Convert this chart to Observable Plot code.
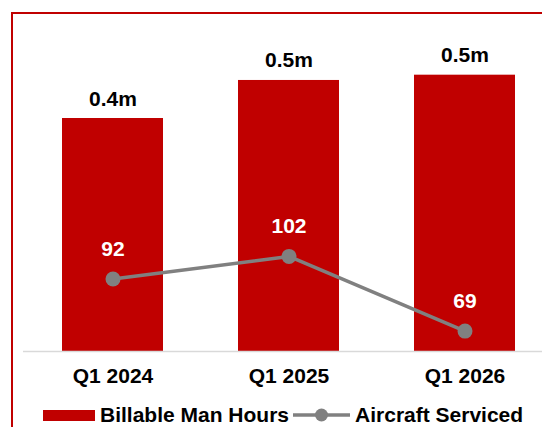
<!DOCTYPE html>
<html>
<head>
<meta charset="utf-8">
<script src="https://cdn.jsdelivr.net/npm/d3@7"></script>
<script src="https://cdn.jsdelivr.net/npm/@observablehq/plot@0.6"></script>
<style>
  html, body { margin: 0; padding: 0; background: #fff; overflow: hidden; }
  body { width: 542px; height: 427px; position: relative; font-family: "Liberation Sans", Arial, sans-serif; }
  #frame { position: absolute; left: 11px; top: 12px; width: 700px; height: 700px; border-left: 2px solid #c00000; border-top: 2px solid #c00000; box-sizing: border-box; }
  #chart { position: absolute; left: 0; top: 0; width: 542px; height: 395px; }
  #chart svg { position: absolute; left: 0; top: 0; }
  #legend { position: absolute; left: 0; top: 403px; width: 542px; height: 24px; display: flex; align-items: center; font-size: 21px; font-weight: bold; color: #000; padding-left: 43px; box-sizing: border-box; white-space: nowrap; }
  .sw { display: inline-block; width: 52px; height: 11px; background: #c00000; margin-right: 5px; }
  .lsw { margin-left: 4px; margin-right: 5px; }
</style>
</head>
<body>
<div id="frame"></div>
<div id="chart"></div>
<div id="legend"></div>
<script>
const categories = ["Q1 2024", "Q1 2025", "Q1 2026"];
const manHours = [441, 513, 523];          // thousand hours
const manHourLabels = ["0.4m", "0.5m", "0.5m"];
const aircraft = [92, 102, 69];
const seriesNames = ["Billable Man Hours", "Aircraft Serviced"];

const red = "#c00000";
const gray = "#808080";
const font = "Liberation Sans, Arial, sans-serif";

const barData = categories.map((c, i) => ({cat: c, v: manHours[i], label: manHourLabels[i]}));
const lineData = categories.map((c, i) => ({cat: c, v: aircraft[i]}));

const common = {
  width: 542,
  height: 395,
  marginLeft: 23,
  marginRight: 0,
  marginTop: 34,
  marginBottom: 44,
  style: {fontFamily: font, background: "transparent", overflow: "visible"},
  x: {type: "band", domain: categories, paddingInner: 0.428, paddingOuter: 0.184, align: 0.585}
};

const bars = Plot.plot({
  ...common,
  y: {domain: [0, 600], axis: null},
  x: {...common.x, label: null},
  marks: [
    Plot.barY(barData, {x: "cat", y: "v", fill: red}),
    Plot.ruleY([0], {stroke: "#d9d9d9", strokeWidth: 1.5}),
    Plot.text(barData, {x: "cat", y: "v", text: "label", dy: -13, lineAnchor: "bottom",
      fontSize: 21, fontWeight: "bold", fill: "#000"}),
    Plot.axisX({tickSize: 0, tickPadding: 17, fontSize: 21, fontWeight: "bold", fill: "#000", label: null})
  ]
});

const line = Plot.plot({
  ...common,
  y: {domain: [60, 200], axis: null},
  x: {...common.x, axis: null},
  marks: [
    Plot.line(lineData, {x: "cat", y: "v", stroke: gray, strokeWidth: 3.5}),
    Plot.dot(lineData, {x: "cat", y: "v", r: 7.5, fill: gray, stroke: "none"}),
    Plot.text(lineData, {x: "cat", y: "v", text: d => String(d.v), dy: -23, lineAnchor: "bottom",
      fontSize: 21, fontWeight: "bold", fill: "#fff"})
  ]
});

const chart = document.getElementById("chart");
chart.appendChild(bars);
chart.appendChild(line);

const legend = document.getElementById("legend");
legend.innerHTML =
  `<span class="sw"></span><span>${seriesNames[0]}</span>` +
  `<svg class="lsw" width="57" height="16"><line x1="0" y1="8" x2="57" y2="8" stroke="${gray}" stroke-width="3.5"/><circle cx="28.5" cy="8" r="6.5" fill="${gray}"/></svg>` +
  `<span>${seriesNames[1]}</span>`;
</script>
</body>
</html>
